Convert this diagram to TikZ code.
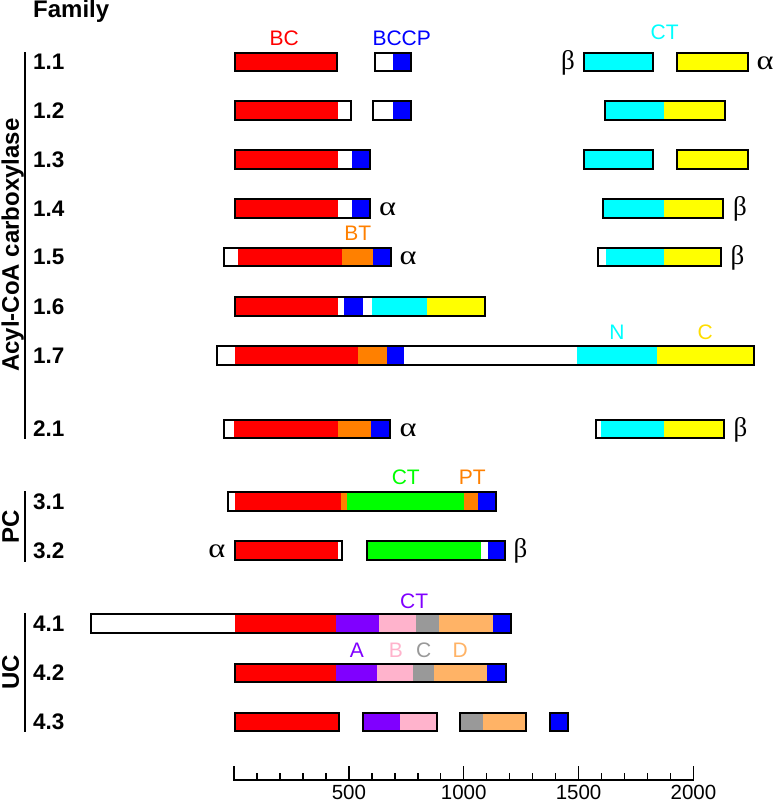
\documentclass[tikz,border=0pt]{standalone}
\usepackage{fontspec}
\setmainfont{Liberation Sans}
\newfontfamily\grk{Liberation Serif}
\definecolor{cred}{RGB}{255,0,0}
\definecolor{cblue}{RGB}{0,0,255}
\definecolor{ccyan}{RGB}{0,255,255}
\definecolor{cyel}{RGB}{255,255,0}
\definecolor{cyellab}{RGB}{255,221,0}
\definecolor{corange}{RGB}{255,128,0}
\definecolor{cgreen}{RGB}{0,255,0}
\definecolor{cpurple}{RGB}{128,0,255}
\definecolor{cpink}{RGB}{255,179,204}
\definecolor{cgray}{RGB}{153,153,153}
\definecolor{clorange}{RGB}{255,179,102}
\newcommand\dseg[4]{\fill[#4] (#2,{#1-9.3}) rectangle (#3,{#1+9.3});}
\newcommand\dbox[3]{\draw[boxline] ({#2+1},{#1-9.3}) rectangle ({#3-1},{#1+9.3});}
\newcommand\alf{\scalebox{1.2}[1]{α}}
\tikzset{
  lab/.style={font=\fontsize{22.5}{24}\selectfont\bfseries, anchor=base west, inner sep=0pt},
  famlab/.style={font=\fontsize{24}{26}\selectfont\bfseries, anchor=base west, inner sep=0pt},
  grp/.style={font=\fontsize{24}{26}\selectfont\bfseries, rotate=90, anchor=base, inner sep=0pt},
  dom/.style={font=\fontsize{21}{24}\selectfont, anchor=base, inner sep=0pt},
  grkl/.style={font=\grk\fontsize{27}{29}\selectfont, inner sep=0pt},
  ticklab/.style={font=\fontsize{20.5}{22}\selectfont, anchor=base, inner sep=0pt},
  boxline/.style={draw=black, line width=2pt},
  grpbar/.style={draw=black, line width=2pt},
  tk/.style={draw=black, line width=1.5pt},
}
\begin{document}
\begin{tikzpicture}[x=1pt,y=-1pt]
\useasboundingbox (0,0) rectangle (774,804);
% headers and group labels
\node[famlab] (family) at (33,17.5) {Family};
\draw[grpbar] (25.3,52) -- (25.3,439);
\draw[grpbar] (25.3,491) -- (25.3,562);
\draw[grpbar] (25.3,613) -- (25.3,732);
\node[grp] (gacyl) at (18.8,245) {Acyl-CoA carboxylase};
\node[grp] (gpc) at (18.8,526.5) {PC};
\node[grp] (guc) at (18.8,672.5) {UC};
\node[lab] (r11) at (33,69.8) {1.1};
\node[lab] (r12) at (33,118.3) {1.2};
\node[lab] (r13) at (33,167.3) {1.3};
\node[lab] (r14) at (33,216.3) {1.4};
\node[lab] (r15) at (33,264.8) {1.5};
\node[lab] (r16) at (33,314.1) {1.6};
\node[lab] (r17) at (33,363.1) {1.7};
\node[lab] (r21) at (33,436.8) {2.1};
\node[lab] (r31) at (33,509.1) {3.1};
\node[lab] (r32) at (33,558.3) {3.2};
\node[lab] (r41) at (33,631.3) {4.1};
\node[lab] (r42) at (33,680.8) {4.2};
\node[lab] (r43) at (33,729.8) {4.3};
% domain labels
\node[dom, text=cred] (lbc) at (284.2,45.7) {BC};
\node[dom, text=cblue] (lbccp) at (401.7,45.7) {BCCP};
\node[dom, text=ccyan] (lct1) at (664.7,39.3) {CT};
\node[dom, text=corange] (lbt) at (357.8,240.7) {BT};
\node[dom, text=ccyan] (ln) at (617,339) {N};
\node[dom, text=cyellab] (lc) at (705.3,339) {C};
\node[dom, text=cgreen] (lct3) at (405.8,484.8) {CT};
\node[dom, text=corange] (lpt) at (472.2,484.8) {PT};
\node[dom, text=cpurple] (lct4) at (414.2,608.3) {CT};
\node[dom, text=cpurple] (la) at (357,657) {A};
\node[dom, text=cpink] (lb) at (395.8,657) {B};
\node[dom, text=cgray] (lcc) at (423.8,657) {C};
\node[dom, text=clorange] (ld) at (460.3,657) {D};
% 1.1
\dseg{62}{234}{338.3}{cred}\dbox{62}{234}{338.3}
\dseg{62}{392.7}{411.7}{cblue}\dbox{62}{374.3}{411.7}
\dseg{62}{583.3}{654.3}{ccyan}\dbox{62}{583.3}{654.3}
\dseg{62}{675.7}{749.3}{cyel}\dbox{62}{675.7}{749.3}
\node[grkl, anchor=base east] (b11) at (575,69.3) {β};
\node[grkl, anchor=base west] (a11) at (756.5,69.3) {\alf};
% 1.2
\dseg{110.5}{234}{337.7}{cred}\dbox{110.5}{234}{352.3}
\dseg{110.5}{393.3}{411.7}{cblue}\dbox{110.5}{372}{411.7}
\dseg{110.5}{604.3}{664.3}{ccyan}\dseg{110.5}{664.3}{725.7}{cyel}\dbox{110.5}{604.3}{725.7}
% 1.3
\dseg{159.5}{234}{338}{cred}\dseg{159.5}{352}{370.7}{cblue}\dbox{159.5}{234}{370.7}
\dseg{159.5}{583.3}{654.3}{ccyan}\dbox{159.5}{583.3}{654.3}
\dseg{159.5}{675.7}{749.3}{cyel}\dbox{159.5}{675.7}{749.3}
% 1.4
\dseg{208.5}{234}{338}{cred}\dseg{208.5}{352}{370.7}{cblue}\dbox{208.5}{234}{370.7}
\node[grkl, anchor=base west] (a14) at (379,215.8) {\alf};
\dseg{208.5}{602.3}{664.3}{ccyan}\dseg{208.5}{664.3}{724}{cyel}\dbox{208.5}{602.3}{724}
\node[grkl, anchor=base west] (b14) at (733,215.8) {β};
% 1.5
\dseg{257}{238.3}{341.7}{cred}\dseg{257}{341.7}{373.3}{corange}\dseg{257}{373.3}{391.7}{cblue}\dbox{257}{223.3}{391.7}
\node[grkl, anchor=base west] (a15) at (399.3,264.3) {\alf};
\dseg{257}{605.7}{664.3}{ccyan}\dseg{257}{664.3}{721.7}{cyel}\dbox{257}{597.3}{721.7}
\node[grkl, anchor=base west] (b15) at (730.5,264.3) {β};
% 1.6
\dseg{306.3}{234}{337.7}{cred}\dseg{306.3}{344.3}{363.3}{cblue}\dseg{306.3}{371.7}{427.3}{ccyan}\dseg{306.3}{427.3}{486}{cyel}\dbox{306.3}{234}{486}
% 1.7
\dseg{355.3}{235}{358.3}{cred}\dseg{355.3}{358.3}{386.7}{corange}\dseg{355.3}{386.7}{404}{cblue}\dseg{355.3}{576.7}{656.7}{ccyan}\dseg{355.3}{656.7}{755}{cyel}\dbox{355.3}{215.7}{755}
% 2.1
\dseg{429}{234.3}{337.7}{cred}\dseg{429}{337.7}{370.7}{corange}\dseg{429}{370.7}{390.7}{cblue}\dbox{429}{223.3}{390.7}
\node[grkl, anchor=base west] (a21) at (399.3,436.3) {\alf};
\dseg{429}{601}{664}{ccyan}\dseg{429}{664}{725}{cyel}\dbox{429}{595.3}{725}
\node[grkl, anchor=base west] (b21) at (733.5,436.3) {β};
% 3.1
\dseg{501.3}{235}{341}{cred}\dseg{501.3}{341}{347.3}{corange}\dseg{501.3}{347.3}{464}{cgreen}\dseg{501.3}{464}{478.3}{corange}\dseg{501.3}{478.3}{497.3}{cblue}\dbox{501.3}{226.7}{497.3}
% 3.2
\dseg{550.5}{234.3}{337.7}{cred}\dbox{550.5}{234.3}{343.3}
\node[grkl, anchor=base east] (a32) at (225.5,557.8) {\alf};
\dseg{550.5}{365.7}{481}{cgreen}\dseg{550.5}{487.7}{505.7}{cblue}\dbox{550.5}{365.7}{505.7}
\node[grkl, anchor=base west] (b32) at (513.5,557.8) {β};
% 4.1
\dseg{623.5}{235}{335.7}{cred}\dseg{623.5}{335.7}{379.3}{cpurple}\dseg{623.5}{379.3}{416}{cpink}\dseg{623.5}{416}{439}{cgray}\dseg{623.5}{439}{492.7}{clorange}\dseg{623.5}{492.7}{511.7}{cblue}\dbox{623.5}{90}{511.7}
% 4.2
\dseg{673}{234}{335.7}{cred}\dseg{673}{335.7}{376.7}{cpurple}\dseg{673}{376.7}{413.3}{cpink}\dseg{673}{413.3}{434}{cgray}\dseg{673}{434}{487.3}{clorange}\dseg{673}{487.3}{506.7}{cblue}\dbox{673}{234}{506.7}
% 4.3
\dseg{722}{234}{340}{cred}\dbox{722}{234}{340}
\dseg{722}{362.3}{400}{cpurple}\dseg{722}{400}{437.7}{cpink}\dbox{722}{362.3}{437.7}
\dseg{722}{459.3}{482.7}{cgray}\dseg{722}{482.7}{527.3}{clorange}\dbox{722}{459.3}{527.3}
\dseg{722}{549.3}{569}{cblue}\dbox{722}{549.3}{569}
% axis
\coordinate (ax0) at (233,780);
\coordinate (ax1) at (694.4,780);
\draw[draw=black, line width=2.2pt] (ax0) -- (ax1);
\foreach \i in {0,...,20} {\draw[tk] ({234+\i*22.97},780) -- ({234+\i*22.97},772.7);}
\foreach \i in {0,5,10,15,20} {\draw[tk] ({234+\i*22.97},780) -- ({234+\i*22.97},766);}
\node[ticklab] (t500) at ({234+5*22.97},799) {500};
\node[ticklab] (t1000) at ({234+10*22.97},799) {1000};
\node[ticklab] (t1500) at ({234+15*22.97},799) {1500};
\node[ticklab] (t2000) at ({234+20*22.97},799) {2000};
\end{tikzpicture}
\end{document}
